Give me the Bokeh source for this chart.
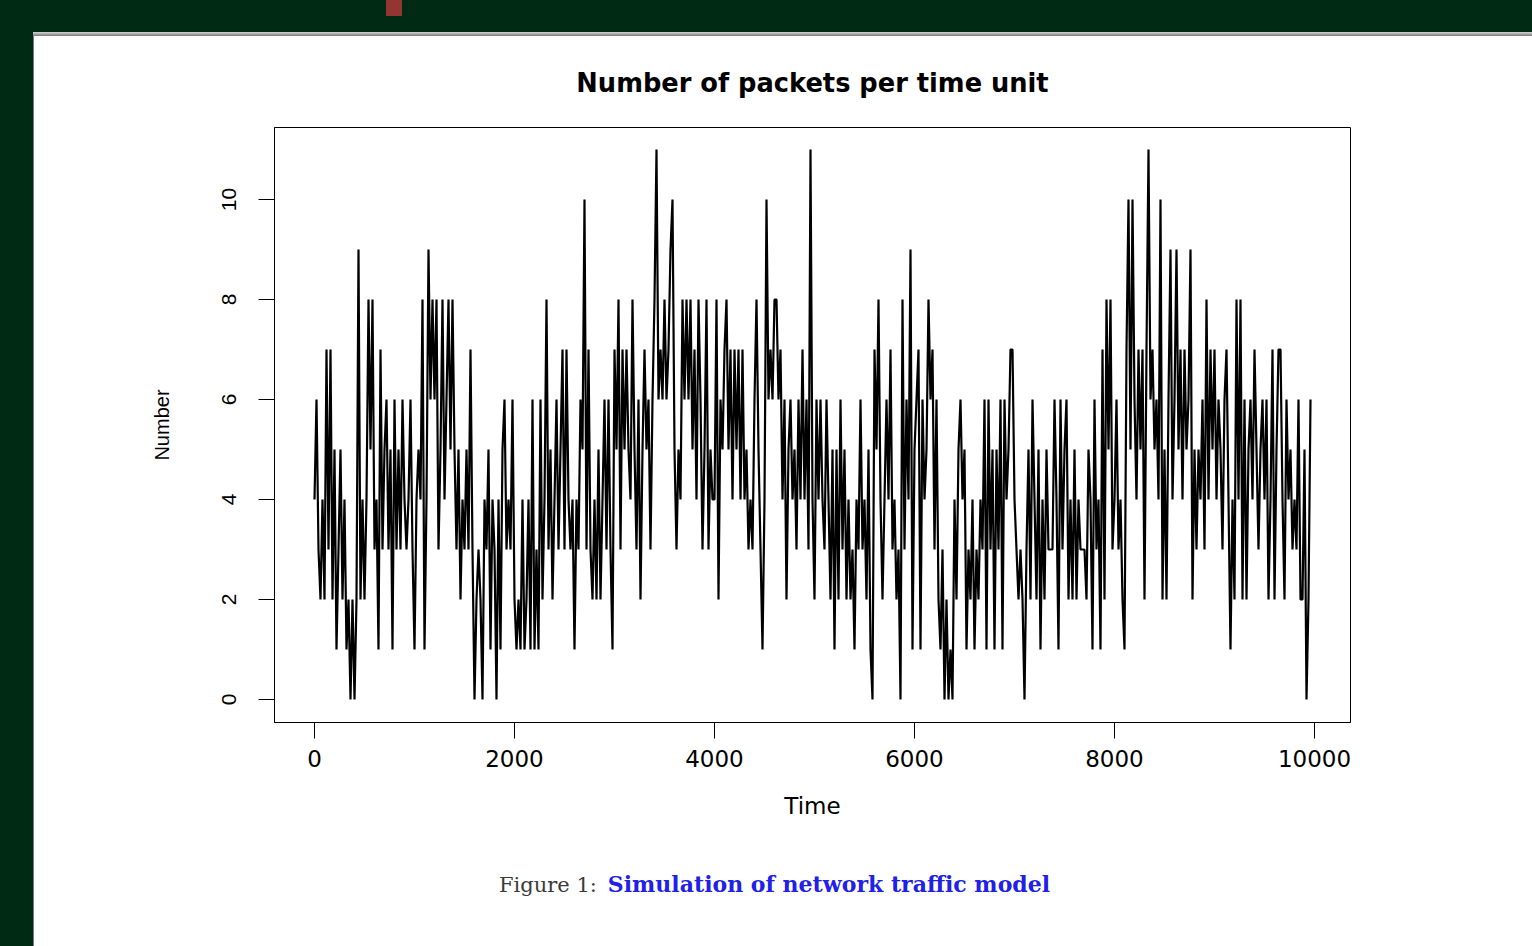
import numpy as np
from bokeh.plotting import figure
from bokeh.models import Range1d, FixedTicker, Div
from bokeh.layouts import column, row
from bokeh.embed import file_html
from bokeh.resources import INLINE

# ---- data: packets per time unit, read every 20 time units ----
time_step = 20
packets_0000 = [4,6,3,2,4,2,7,3,7,2, 5,1,3,5,2,4,1,2,0,2, 0,2,9,2,4,2,4,8,5,8, 3,4,1,7,3,5,6,3,5,1, 6,3,5,3,6,4,3,4,6,3]
packets_1000 = [1,4,5,4,8,1,4,9,6,8, 6,8,3,5,8,4,6,8,5,8, 5,3,5,2,4,3,5,3,7,3, 0,2,3,2,0,4,3,5,1,4, 3,0,4,1,5,6,3,4,3,6]
packets_2000 = [2,1,2,1,4,1,2,4,1,6, 1,3,1,6,2,4,8,3,5,2, 4,6,3,5,7,3,7,4,3,4, 1,4,3,6,5,10,3,7,3,2, 4,2,5,2,4,6,3,6,3,1]
packets_3000 = [7,5,8,3,7,5,7,5,4,8, 5,3,6,2,5,7,5,6,3,6, 8,11,6,7,6,8,6,7,9,10, 5,3,5,4,8,6,8,6,8,5, 7,4,8,6,3,5,8,3,5,4]
packets_4000 = [4,8,2,6,5,7,8,5,7,4, 7,5,7,4,7,4,5,3,4,3, 6,8,5,3,1,4,10,6,7,6, 8,8,6,7,4,6,2,5,6,4, 5,3,6,4,7,4,6,3,11,4]
packets_5000 = [2,6,4,6,4,3,6,4,2,5, 1,5,2,6,3,5,2,4,2,3, 1,4,3,6,3,4,2,5,1,0, 7,5,8,4,2,4,6,4,7,3, 4,2,3,0,8,3,6,4,9,1]
packets_6000 = [5,6,7,1,6,4,5,8,6,7, 3,6,2,1,3,0,2,0,1,0, 4,2,5,6,4,5,1,3,2,4, 1,3,2,4,3,6,1,6,3,5, 1,5,3,6,1,6,4,5,7,7]
packets_7000 = [4,3,2,3,2,0,3,5,2,6, 4,2,5,1,4,2,5,3,3,3, 6,4,1,6,3,5,6,2,4,2, 5,2,4,3,3,3,2,5,4,1, 6,3,4,1,7,2,8,5,8,3]
packets_8000 = [4,6,3,4,2,1,7,10,5,10, 6,4,7,5,7,2,7,11,6,7, 5,6,4,10,2,5,2,6,9,4, 6,9,5,7,4,7,5,6,9,2, 5,3,5,4,6,3,8,4,7,5]
packets_9000 = [7,4,6,5,3,6,7,4,1,4, 2,8,4,8,2,6,2,5,6,4, 7,5,3,5,6,4,6,2,4,7, 2,5,7,7,4,2,6,4,5,3, 4,3,6,2,2,5,0,2,6]

x_ticks = [0, 2000, 4000, 6000, 8000, 10000]
y_ticks = [0, 2, 4, 6, 8, 10]
title_text = "Number of packets per time unit"
x_label = "Time"
y_label = "Number"
caption_prefix = "Figure 1:"
caption_text = "Simulation of network traffic model"

packets = (packets_0000 + packets_1000 + packets_2000 + packets_3000 + packets_4000 +
           packets_5000 + packets_6000 + packets_7000 + packets_8000 + packets_9000)
time = [i * time_step for i in range(len(packets))]

GREEN = "#002a14"

p = figure(width=1498, height=830, output_backend="svg", toolbar_location=None,
           title=title_text,
           x_range=Range1d(-400, 10360), y_range=Range1d(-0.46, 11.44),
           min_border_left=240, min_border_right=182, min_border_top=91, min_border_bottom=144,
           background_fill_color="white", border_fill_color="white")
p.grid.visible = False
p.outline_line_color = "black"
p.outline_line_width = 1
p.outline_line_alpha = 1

p.title.text_font = "DejaVu Sans"
p.title.text_font_style = "bold"
p.title.text_font_size = "25.7px"
p.title.text_color = "black"
p.title.align = "center"
p.title.standoff = 59

p.line(time, packets, line_color="black", line_width=2.2)

for ax in (p.xaxis[0], p.yaxis[0]):
    ax.major_tick_out = 16
    ax.major_tick_in = 0
    ax.minor_tick_out = 0
    ax.minor_tick_in = 0
    ax.axis_line_color = "black"
    ax.major_tick_line_color = "black"
    ax.major_label_text_color = "black"
    ax.axis_label_text_color = "black"
    ax.axis_label_text_font_style = "normal"

p.xaxis.ticker = FixedTicker(ticks=x_ticks)
p.yaxis.ticker = FixedTicker(ticks=y_ticks)
p.xaxis.major_label_text_font = "DejaVu Sans"
p.xaxis.major_label_text_font_size = "23px"
p.xaxis.major_label_standoff = 11
p.xaxis.axis_label = x_label
p.xaxis.axis_label_text_font = "DejaVu Sans"
p.xaxis.axis_label_text_font_size = "23px"
p.xaxis.axis_label_standoff = 23

p.yaxis.major_label_orientation = "vertical"
p.yaxis.major_label_text_font = "Liberation Sans"
p.yaxis.major_label_text_font_size = "21px"
p.yaxis.major_label_standoff = 23
p.yaxis.axis_label = y_label
p.yaxis.axis_label_text_font = "Liberation Sans"
p.yaxis.axis_label_text_font_size = "20px"
p.yaxis.axis_label_standoff = 46

caption_html = (
    '<div style="position:relative;width:1498px;height:80px;background:white;margin:0">'
    '<div style="position:absolute;left:465px;top:8px;white-space:nowrap;line-height:21px;'
    'font-family:\'DejaVu Serif\';">'
    '<span style="font-size:21px;color:#3a3a3a">%s</span>'
    '<span style="font-size:22px;font-weight:bold;color:#2020e8;margin-left:11px">%s</span>'
    '</div></div>' % (caption_prefix, caption_text)
)
caption_div = Div(text=caption_html, width=1498, height=80, margin=0)

top_html = (
    '<div style="position:relative;width:1532px;height:36px;background:%s;overflow:hidden;margin:0">'
    '<div style="position:absolute;left:386px;top:0px;width:16px;height:16px;background:#933631"></div>'
    '<div style="position:absolute;left:33px;top:32px;width:1499px;height:4px;'
    'background:linear-gradient(#d6d6d6,#a8a8a8,#7a7a7a)"></div></div>' % GREEN
)
top_div = Div(text=top_html, width=1532, height=36, margin=0)
left_div = Div(text="", width=34, height=910, margin=0,
               styles={"background": "linear-gradient(to right, %s 33px, #7a7a7a 33px)" % GREEN})

layout = column(top_div, row(left_div, column(p, caption_div, spacing=0), spacing=0), spacing=0)

with open("out.html", "w") as f:
    f.write(file_html(layout, INLINE))
